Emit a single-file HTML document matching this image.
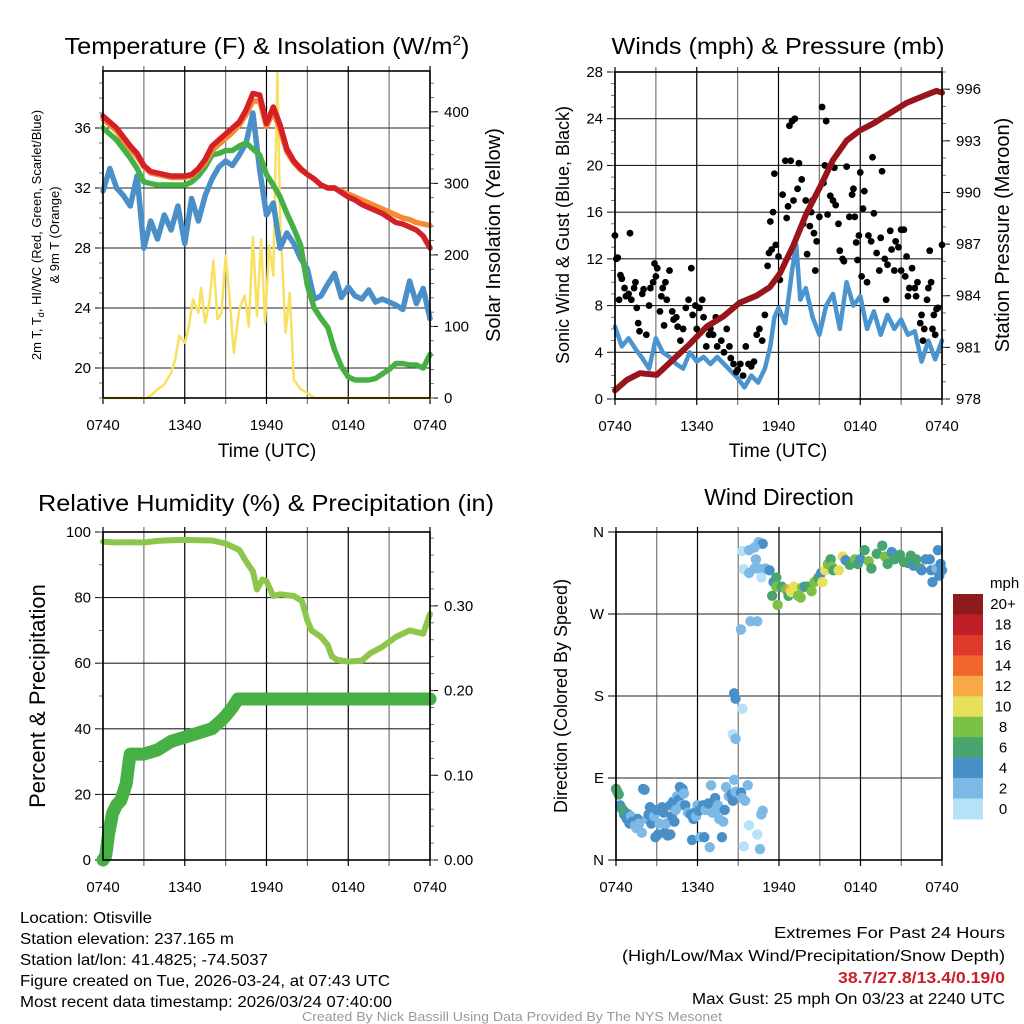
<!DOCTYPE html>
<html><head><meta charset="utf-8"><style>
html,body{margin:0;padding:0;background:#fff;}
svg{display:block;font-family:"Liberation Sans",sans-serif;}
</style></head><body>
<svg id="fig" width="1024" height="1024" viewBox="0 0 1024 1024" xmlns="http://www.w3.org/2000/svg">
<rect width="1024" height="1024" fill="#fff"/>
<text x="267" y="54" font-size="23" text-anchor="middle" textLength="405" lengthAdjust="spacingAndGlyphs">Temperature (F) &amp; Insolation (W/m<tspan font-size="14" dy="-9">2</tspan><tspan dy="9">)</tspan></text>
<text x="778" y="54" font-size="23" text-anchor="middle" textLength="333" lengthAdjust="spacingAndGlyphs">Winds (mph) &amp; Pressure (mb)</text>
<text x="266" y="511" font-size="23" text-anchor="middle" textLength="456" lengthAdjust="spacingAndGlyphs">Relative Humidity (%) &amp; Precipitation (in)</text>
<text x="779" y="505" font-size="23" text-anchor="middle">Wind Direction</text>
<g id="layer"></g>
<g font-size="16">
<text x="20" y="923" textLength="132" lengthAdjust="spacingAndGlyphs">Location: Otisville</text>
<text x="20" y="944" textLength="214" lengthAdjust="spacingAndGlyphs">Station elevation: 237.165 m</text>
<text x="20" y="965" textLength="248" lengthAdjust="spacingAndGlyphs">Station lat/lon: 41.4825; -74.5037</text>
<text x="20" y="986" textLength="370" lengthAdjust="spacingAndGlyphs">Figure created on Tue, 2026-03-24, at 07:43 UTC</text>
<text x="20" y="1007" textLength="372" lengthAdjust="spacingAndGlyphs">Most recent data timestamp: 2026/03/24 07:40:00</text>
</g>
<g font-size="16" text-anchor="end">
<text x="1005" y="938" textLength="231" lengthAdjust="spacingAndGlyphs">Extremes For Past 24 Hours</text>
<text x="1005" y="961" textLength="383" lengthAdjust="spacingAndGlyphs">(High/Low/Max Wind/Precipitation/Snow Depth)</text>
<text x="1005" y="983" fill="#c8202a" font-weight="bold" textLength="167" lengthAdjust="spacingAndGlyphs">38.7/27.8/13.4/0.19/0</text>
<text x="1005" y="1004" textLength="313" lengthAdjust="spacingAndGlyphs">Max Gust: 25 mph On 03/23 at 2240 UTC</text>
</g>
<text x="512" y="1021" font-size="13" fill="#999" text-anchor="middle" textLength="420" lengthAdjust="spacingAndGlyphs">Created By Nick Bassill Using Data Provided By The NYS Mesonet</text>
</svg>
<script>
// ---------- data ----------
const xTickLabels = ["0740","1340","1940","0140","0740"];
const hrs = [0,0.5,1,1.5,2,2.5,3,3.5,4,4.5,5,5.5,6,6.5,7,7.5,8,8.5,9,9.5,10,10.5,11,11.5,12,12.5,13,13.5,14,14.5,15,15.5,16,16.5,17,17.5,18,18.5,19,19.5,20,20.5,21,21.5,22,22.5,23,23.5,24];
const tempRed = [36.8,36.4,36.0,35.4,34.8,34.3,33.5,33.1,33.0,32.9,32.8,32.8,32.8,32.9,33.3,33.9,34.8,35.2,35.6,36.0,36.4,37.2,38.3,38.2,36.3,37.4,36.2,34.6,33.8,33.3,32.9,32.6,32.2,32.0,32.0,31.7,31.4,31.2,30.9,30.7,30.5,30.3,30.0,29.7,29.6,29.4,29.2,28.8,28.0];
const tempOrange = [36.6,36.2,35.8,35.2,34.6,34.1,33.4,33.0,32.9,32.8,32.7,32.7,32.7,32.8,33.2,33.7,34.5,34.9,35.3,35.7,36.2,36.9,37.8,37.8,36.1,37.1,35.9,34.4,33.7,33.2,32.9,32.6,32.2,32.0,32.0,31.8,31.6,31.4,31.2,31.0,30.8,30.6,30.4,30.2,30.0,29.9,29.7,29.6,29.5];
const dewGreen = [36.0,35.6,35.2,34.6,34.0,33.3,32.4,32.3,32.2,32.2,32.2,32.2,32.2,32.4,32.8,33.4,34.2,34.3,34.5,34.5,34.8,35.0,34.6,34.2,32.9,32.2,31.4,30.3,29.3,28.2,25.5,24.0,23.3,22.7,21.2,20.1,19.4,19.2,19.2,19.2,19.3,19.6,19.9,20.3,20.3,20.2,20.2,20.0,20.9];
const chillBlue = [31.8,33.3,32.0,31.5,30.8,32.8,28.0,29.8,28.6,30.2,29.2,30.8,28.3,31.3,29.8,31.5,32.6,33.4,33.8,33.5,34.2,35.0,37.0,33.2,30.2,31.0,28.0,29.0,28.3,27.3,26.6,24.6,24.8,25.6,26.3,24.7,25.4,24.8,24.6,25.2,24.4,24.6,24.4,24.2,23.9,25.8,24.3,25.3,23.3];
const solarHrs = [0,3.2,3.6,4,4.5,5,5.3,5.6,6,6.3,6.6,7,7.2,7.5,7.8,8.1,8.4,8.7,9,9.3,9.6,10,10.4,10.7,11,11.3,11.6,11.9,12.2,12.5,12.8,13,13.4,13.7,14,14.5,15,15.5,24];
const solarVals = [0,0,5,12,19,35,54,87,77,100,138,119,154,105,133,192,110,119,199,138,63,124,143,100,225,115,222,105,213,171,456,250,91,147,26,12,7,0,0];
const windHrs = [0,0.5,1,1.5,2,2.5,3,3.5,4,4.5,5,5.5,6,6.5,7,7.5,8,8.5,9,9.5,10,10.5,11,11.4,11.7,12,12.5,13,13.3,13.6,14,14.5,15,15.5,16,16.5,17,17.5,18,18.5,19,19.5,20,20.5,21,21.5,22,22.5,23,23.5,24];
const windSpd = [6.2,4.5,5.2,4.3,3.5,2.6,5.2,4.0,3.6,3.0,2.6,4.0,3.2,3.6,3.0,3.6,3.0,2.4,1.8,1.0,2.0,1.4,2.6,4.5,7.0,7.8,6.5,11.0,13.2,8.5,9.5,7.0,5.5,8.0,9.0,6.0,10.0,8.0,8.8,6.0,7.5,5.5,7.2,6.0,6.8,5.5,5.8,3.2,5.0,3.4,5.0];
const presHrs = [0,0.85,1.83,3.06,4.28,5.5,6.72,7.95,9.17,10.39,11.37,12.1,13.08,14.06,15.04,16.01,16.99,17.97,18.95,20.17,21.39,22.61,23.59,24];
const presVals = [978.5,979.1,979.5,979.4,980.3,981.2,982.2,982.8,983.6,984.0,984.5,985.3,986.9,988.8,990.3,991.9,993.0,993.6,994.0,994.6,995.2,995.6,995.9,995.8];
const gustHrs = [0,0.1,0.2,0.3,0.4,0.5,0.7,0.8,1,1.1,1.2,1.4,1.5,1.6,1.7,1.8,2,2.1,2.3,2.5,2.6,2.8,2.9,3,3.1,3.3,3.4,3.5,3.6,3.7,3.8,4,4.2,4.3,4.5,4.6,4.8,5,5.2,5.4,5.6,5.7,5.9,6,6.2,6.4,6.5,6.7,6.9,7,7.2,7.4,7.5,7.8,8,8.2,8.4,8.5,8.7,8.9,9,9.2,9.4,9.6,9.8,10,10.2,10.4,10.6,10.8,11,11.2,11.3,11.4,11.5,11.6,11.7,11.8,12,12.1,12.3,12.5,12.6,12.7,12.8,12.9,13,13.1,13.2,13.4,13.5,13.7,13.8,14,14.1,14.3,14.4,14.5,14.6,14.7,14.8,15,15.2,15.3,15.4,15.5,15.6,15.8,16,16.1,16.2,16.4,16.5,16.7,16.8,17,17.2,17.4,17.5,17.6,17.7,17.8,17.9,18,18.1,18.2,18.3,18.5,18.6,18.8,18.9,19,19.2,19.4,19.5,19.6,19.8,19.9,20,20.2,20.3,20.5,20.6,20.8,21,21,21.2,21.3,21.4,21.5,21.6,21.8,22,22.1,22.2,22.4,22.5,22.6,22.7,22.9,23,23.1,23.2,23.3,23.4,23.5,23.6,23.7,24];
const gustSpd = [14,12,12.1,8.5,10.6,10.3,9.5,8.8,9,14.2,8.5,9.5,10,7.8,6.5,5.8,9,9.4,5.5,8,9.5,10,11.6,10.5,11.2,7.5,8.8,9.5,6.3,10,8.5,11,7.5,6.8,7,6.2,5,6,7.8,8.5,11.2,7.2,8,6,7.8,8.5,7,4.5,5.5,6,5.5,7,4.5,5,4,6,4.5,3.5,3,2.3,2.5,3,2,4.5,3,2.8,3.2,5.5,6,5,7.2,11.4,12.5,15.2,12.8,16,19.3,13.2,12.2,10.2,17.5,20.4,15.5,16.5,23.4,20.4,23.8,17,24,18,20.2,18.8,15,17,12.4,14.8,16,17,14.2,11,13.5,15.6,25,18.5,20,23.8,15.8,17.4,17,19.8,16.6,15,12.7,12,11.8,19.9,15.6,17.5,18,15.6,13.4,11.9,14,19.4,10.5,16.3,17.8,10,14,13.5,20.7,15.9,12.5,11,13.8,19.5,12,8.5,11.5,14.4,12.8,11,13.5,13,14.5,11,14.5,10.5,12.2,8.8,9.5,11.2,9.5,8.8,10,6.5,7.2,5,6,8.5,9.5,12.7,10,6,7.2,5.5,7.7,7.8,13.2];
const rhHrs = [0,1,2,3,4,5,6,7,8,9,10,10.5,11,11.3,11.7,12,12.5,13,14,14.6,15,15.3,16,16.5,16.8,17.2,18,19,19.6,20.5,21.5,22.5,23.5,24];
const rhVals = [97,96.8,96.9,96.8,97.3,97.5,97.6,97.5,97.4,96.5,94.5,91,88,82.5,85.5,85,80.5,81,80.5,79,73,70,68,65.5,62,61,60.5,60.8,63,65,68,70,69,75];
const pcpHrs = [0,0.2,0.4,0.7,1,1.3,1.7,1.9,2,2.2,3,4,5,6,7,8,8.7,9,9.5,9.9,24];
const pcpVals = [0,0.005,0.03,0.055,0.065,0.07,0.09,0.115,0.125,0.125,0.125,0.13,0.14,0.145,0.15,0.155,0.165,0.17,0.18,0.19,0.19];
const dirHrs = [0,0.1,0.2,0.3,0.4,0.5,0.6,0.7,0.8,0.9,1,1.1,1.2,1.4,1.5,1.6,1.7,1.9,2,2.1,2.3,2.4,2.5,2.6,2.8,2.9,3,3.1,3.2,3.4,3.5,3.6,3.7,3.8,4,4,4.1,4.2,4.3,4.4,4.5,4.6,4.7,4.8,4.9,5,5.1,5.3,5.5,5.6,5.7,5.8,5.9,6,6.1,6.2,6.4,6.5,6.6,6.8,6.9,7,7.1,7.3,7.4,7.5,7.6,7.8,7.9,8.1,8,8.3,8.5,8.6,8.7,8.8,9.2,9.3,9.4,9.5,9.7,9.8,10.4,10.6,10.7,10.8,8.7,8.8,9.3,8.6,8.8,9.2,9.9,10.4,9.3,9.8,10.5,10.8,10.2,10.3,9.4,9.8,10.5,10.2,10.7,11,11.3,11.6,11.8,11.5,11.8,11.9,12.2,12.5,12.7,12.8,12.9,13.1,13.4,13.6,13.7,13.9,14.1,14.4,14.6,14.9,15.1,15.2,15.4,15.6,15.8,15.9,16,16.4,16.7,16.9,17.2,17.6,17.8,18,18.3,18.6,18.8,19.2,19.6,19.8,20,20.3,20.5,20.9,21.2,21.5,21.7,21.9,22.1,22.4,22.8,23.2,23.3,23.6,23.8,23.9,24,23.7,23.1,22.5];
const dirDeg = [78,75,72,60,57,55,50,52,45,50,40,48,42,38,35,45,40,30,78,77,45,50,58,40,48,25,55,28,40,58,52,30,40,27,28,60,48,64,42,55,70,66,80,60,78,73,60,52,50,22,45,52,48,60,54,25,60,25,55,62,14,82,52,68,55,60,45,25,42,80,55,70,72,65,88,75,74,68,15,65,82,38,28,12,50,54,183,177,166,138,133,253,262,262,339,340,349,347,343,330,319,315,320,320,310,320,318,305,310,290,300,280,300,297,290,297,294,300,290,288,299,300,300,295,305,310,315,305,318,325,330,322,318,318,333,329,324,330,325,330,340,328,320,336,345,333,325,338,330,335,327,326,334,323,330,320,330,318,305,320,312,325,318,340,330,318];
const dirSpd = [6,6,6,4,4,6,4,6,4,4,4,2,4,2,2,4,2,2,4,4,2,4,4,4,2,4,4,4,2,4,4,4,2,4,4,4,4,4,4,2,2,4,4,2,4,2,4,2,4,4,4,4,2,2,4,2,4,4,2,4,2,2,2,4,2,2,2,4,2,2,4,2,4,4,2,2,4,2,0,2,2,0,0,2,2,2,4,4,0,0,2,2,2,2,0,2,2,4,2,2,0,2,2,2,0,2,4,4,6,6,8,8,6,8,6,12,10,10,8,8,8,4,6,8,8,6,4,10,10,8,6,8,6,10,10,4,6,8,6,4,6,8,6,6,6,8,6,4,6,6,6,6,6,4,6,6,4,4,4,2,4,4,4,4,4,4];
const cbLabels = ["20+","18","16","14","12","10","8","6","4","2","0"];
const cbColors = ["#8e1a1c","#bd1e28","#df382c","#f0662c","#f6a944","#e6e05a","#7bc147","#48a56d","#4a90c8","#7db9e4","#b5e2f7"];

// ---------- helpers ----------
const NS = "http://www.w3.org/2000/svg";
const layer = document.getElementById("layer");
function el(tag, attrs, parent){
  const e = document.createElementNS(NS, tag);
  for (const k in attrs) e.setAttribute(k, attrs[k]);
  (parent || layer).appendChild(e);
  return e;
}
function lin(d0,d1,r0,r1){ return v => r0 + (v-d0)/(d1-d0)*(r1-r0); }
function pathFrom(xs, ys, sx, sy){
  let d = "";
  for (let i=0;i<xs.length;i++) d += (i?"L":"M") + sx(xs[i]).toFixed(1) + "," + sy(ys[i]).toFixed(1);
  return d;
}
function speedColor(s){
  const idx = Math.min(10, Math.floor(s/2));
  return cbColors[10-idx];
}

function panel(name, P){
  const g = el("g", {});
  
  
  const sx = lin(0,24,P.x0,P.x1);
  const sy = lin(P.ymin,P.ymax,P.y1,P.y0);
  P.sx = sx; P.sy = sy; P.g = g;
  for (let h=0; h<=24; h+=3){
    const x = sx(h);
    const gl = el("line", {x1:x,x2:x,y1:P.y0-5,y2:P.y1+6,stroke:(h%6===3?"#777":"#000"),"stroke-width":1.2}, g);
    
    
  }
  xTickLabels.forEach((lab,i)=>{
    const t = el("text", {x:sx(i*6), y:P.y1+32, "font-size":15, "text-anchor":"middle"}, g);
    
    
    t.textContent = lab;
  });
  P.yTicks.forEach((v,i)=>{
    const y = sy(v);
    if (v>P.ymin && v<P.ymax){
      const hl = el("line", {x1:P.x0,x2:P.x1,y1:y,y2:y,stroke:"#222","stroke-width":1.1}, g);
      
      
    }
    el("line", {x1:P.x0-8,x2:P.x0,y1:y,y2:y,stroke:"#000","stroke-width":1}, g);
    const t = el("text", {x:P.x0-12, y:y+5, "font-size":15, "text-anchor":"end"}, g);
    
    
    t.textContent = P.yLabels ? P.yLabels[i] : v;
  });
  if (P.yMinor) for (let v=P.ymin; v<=P.ymax; v+=P.yMinor){
    const y = sy(v); el("line", {x1:P.x0-4,x2:P.x0,y1:y,y2:y,stroke:"#555","stroke-width":0.8}, g);
  }
  if (P.r){
    const ry = lin(P.r.min,P.r.max,P.y1,P.y0); P.ry = ry;
    P.r.ticks.forEach((v,i)=>{
      const y = ry(v);
      el("line", {x1:P.x1,x2:P.x1+8,y1:y,y2:y,stroke:"#000","stroke-width":1}, g);
      const t = el("text", {x:P.x1+14, y:y+5, "font-size":15}, g);
      
      
      t.textContent = P.r.labels[i];
    });
    for (let v=P.r.min; v<=P.r.max+1e-9; v+=P.r.minor){
      const y = ry(v); el("line", {x1:P.x1,x2:P.x1+4,y1:y,y2:y,stroke:"#555","stroke-width":0.8}, g);
    }
  }
  return g;
}
function frame(P){
  const f = el("rect", {x:P.x0,y:P.y0,width:P.x1-P.x0,height:P.y1-P.y0,fill:"none",stroke:"#000","stroke-width":1.6}, P.g);
  
  
}
function series(P, xs, ys, color, w, name, useRight){
  const s = el("path", {d:pathFrom(xs,ys,P.sx,useRight?P.ry:P.sy), fill:"none", stroke:color, "stroke-width":w, "stroke-linejoin":"round","stroke-linecap":"round"}, P.g);
  
  
}
function vtext(x,y,txt,size,name){
  const t = el("text", {x:0,y:0,"font-size":size,"text-anchor":"middle",transform:`translate(${x},${y}) rotate(-90)`});
  
  
  t.textContent = txt;
  return t;
}
function htext(x,y,txt,size,name){
  const t = el("text", {x:x,y:y,"font-size":size,"text-anchor":"middle"});
  
  
  t.textContent = txt;
}

// ---------- panel 1: temperature ----------
const P1 = {x0:103,x1:430,y0:71,y1:398,ymin:18,ymax:39.8,yTicks:[20,24,28,32,36],yMinor:1,
  r:{min:0,max:457,ticks:[0,100,200,300,400],labels:["0","100","200","300","400"],minor:20}};
panel("temperature", P1);
series(P1, solarHrs, solarVals, "#f8e060", 2.5, "solar-insolation-line", true);
series(P1, hrs, chillBlue, "#4b8fc8", 5.5, "wind-chill-line");
series(P1, hrs, dewGreen, "#46b045", 5.5, "dewpoint-line");
series(P1, hrs, tempOrange, "#f58a35", 5.5, "temp-9m-line");
series(P1, hrs, tempRed, "#d42027", 5.5, "temp-2m-line");
frame(P1);
htext(267,457,"Time (UTC)",19,"x-axis-title");
{
  const t = el("text", {x:0,y:0,"font-size":13,"text-anchor":"middle",transform:"translate(41,235) rotate(-90)"});
  
  
  t.innerHTML = '2m T, T<tspan font-size="9" dy="3">d</tspan><tspan dy="-3">, HI/WC (Red, Green, Scarlet/Blue)</tspan>';
  vtext(59,235,"& 9m T (Orange)",13,"temp-y-axis-title-2");
}
vtext(500,235,"Solar Insolation (Yellow)",20,"solar-axis-title");

// ---------- panel 2: winds ----------
const P2 = {x0:615,x1:942,y0:72,y1:399,ymin:0,ymax:28,yTicks:[0,4,8,12,16,20,24,28],yMinor:1,
  r:{min:978,max:997,ticks:[978,981,984,987,990,993,996],labels:["978","981","984","987","990","993","996"],minor:1}};
panel("winds", P2);
series(P2, windHrs, windSpd, "#4a95d0", 4.5, "sonic-wind-line");
gustHrs.forEach((h,i)=>{
  const c = el("circle", {cx:P2.sx(h), cy:P2.sy(gustSpd[i]), r:3.4, fill:"#000"}, P2.g);
  
  
});
series(P2, presHrs, presVals, "#98161b", 6, "pressure-line", true);
frame(P2);
htext(778,457,"Time (UTC)",19,"x-axis-title");
vtext(569,235,"Sonic Wind & Gust (Blue, Black)",18,"wind-y-axis-title");
vtext(1009,235,"Station Pressure (Maroon)",20,"pressure-axis-title");

// ---------- panel 3: RH ----------
const P3 = {x0:103,x1:430,y0:532,y1:860,ymin:0,ymax:100,yTicks:[0,20,40,60,80,100],yMinor:10,
  r:{min:0,max:0.3872,ticks:[0,0.1,0.2,0.3],labels:["0.00","0.10","0.20","0.30"],minor:0.02}};
panel("humidity", P3);
series(P3, rhHrs, rhVals, "#8cc64a", 6, "rh-line");
series(P3, pcpHrs, pcpVals, "#46b045", 13, "precip-line", true);
frame(P3);
vtext(45,696,"Percent & Precipitation",22,"rh-y-axis-title");

// ---------- panel 4: direction ----------
const P4 = {x0:616,x1:942,y0:532,y1:860,ymin:0,ymax:360,yTicks:[0,90,180,270,360],yLabels:["N","E","S","W","N"]};
panel("direction", P4);
dirHrs.forEach((h,i)=>{
  const c = el("circle", {cx:P4.sx(h), cy:P4.sy(dirDeg[i]), r:5.2, fill:speedColor(dirSpd[i])}, P4.g);
  
  
});
frame(P4);
vtext(567,696,"Direction (Colored By Speed)",18,"direction-y-axis-title");
{
  const lg = el("g", {});
  
  
  const t = el("text", {x:990,y:588,"font-size":15}, lg);
  t.textContent = "mph";
  const bh = 225/cbColors.length;
  cbColors.forEach((c,i)=>{
    const r = el("rect", {x:953,y:594+i*bh,width:30,height:bh+0.5,fill:c}, lg);
    
    
    const l = el("text", {x:1003,y:594+i*bh+bh/2+5,"font-size":15,"text-anchor":"middle"}, lg);
    
    
    l.textContent = cbLabels[i];
  });
}
</script>
</body></html>
